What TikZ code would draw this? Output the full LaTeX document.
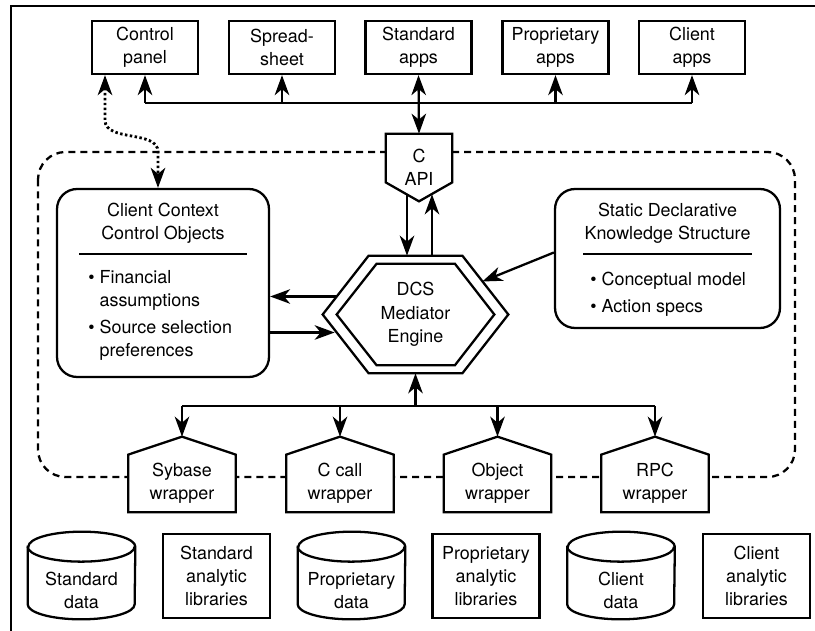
\documentclass[tikz,border=0pt]{standalone}
\usepackage{fontspec}
\setmainfont{TeX Gyre Heros}
\usepackage{tikz}
\usetikzlibrary{arrows.meta, calc, backgrounds}
\tikzstyle{appbox} = [draw, line width=1.3pt, minimum width=2.12cm, minimum height=1.06cm, align=center, inner sep=0pt]
\tikzstyle{libbox} = [draw, line width=1.3pt, minimum width=2.14cm, minimum height=1.68cm, align=center, inner sep=0pt]
\tikzstyle{ctxbox} = [draw, line width=1.3pt, rounded corners=0.4cm, inner sep=0pt]
\tikzstyle{bare} = [inner sep=0pt, align=center]
\tikzstyle{outline} = [line width=1.3pt, fill=white]
\tikzstyle{bus} = [line width=1.3pt]
\tikzstyle{arrow} = [line width=1.3pt, -{Stealth[length=4mm, width=2.9mm, inset=1.2mm]}]
\tikzstyle{twoway} = [line width=1.3pt, {Stealth[length=4mm, width=2.9mm, inset=1.2mm]}-{Stealth[length=4mm, width=2.9mm, inset=1.2mm]}]
\tikzstyle{linkdots} = [line width=1.6pt, dash pattern=on 1.4pt off 1.4pt, {Stealth[length=4mm, width=2.9mm, inset=1.2mm]}-{Stealth[length=4mm, width=2.9mm, inset=1.2mm]}]
\tikzstyle{boundary} = [line width=1.3pt, dash pattern=on 0.14cm off 0.1cm, rounded corners=0.55cm]

\begin{document}
\begin{tikzpicture}[x=0.02cm, y=-0.02cm, font=\fontsize{10.2}{13.3}\selectfont]
    \useasboundingbox (0,0) rectangle (815,631);
    \draw[line width=0.6pt] (11,640) -- (11,6) -- (825,6);

    % applications
    \node[appbox] (cp) at (145,47.5) {Control\\panel};
    \node[appbox] (ss) at (282,47.5) {Spread-\\sheet};
    \node[appbox] (sapp) at (418.5,47.5) {Standard\\apps};
    \node[appbox] (papp) at (555.5,47.5) {Proprietary\\apps};
    \node[appbox] (capp) at (692,47.5) {Client\\apps};

    \node[bare, minimum width=1.32cm, minimum height=1.34cm] (api) at (419,167.5) {C\\API};
    \node[bare, minimum width=3.7cm, minimum height=2.34cm] (dcs) at (415.5,314.5) {DCS\\Mediator\\Engine};

    % context objects
    \node[ctxbox, minimum width=4.24cm, minimum height=3.76cm] (cc) at (163,283) {};
    \node[bare] (cct) at (163,223.5) {Client Context\\Control Objects};
    \draw[line width=1.3pt] (79,254) -- (247,254);
    \node[bare, align=left, anchor=west] (ccl) at (88,315.5) {\textbullet\ Financial\\\hphantom{\textbullet\ }assumptions\\[2pt]\textbullet\ Source selection\\\hphantom{\textbullet\ }preferences};

    \node[ctxbox, minimum width=4.5cm, minimum height=2.78cm] (sk) at (667.5,258.5) {};
    \node[bare] (skt) at (667.5,223.5) {Static Declarative\\Knowledge Structure};
    \draw[line width=1.3pt] (583,254) -- (752,254);
    \node[bare, align=left, anchor=west] (skl) at (590,294) {\textbullet\ Conceptual model\\[2pt]\textbullet\ Action specs};

    % wrappers
    \node[bare, minimum width=2.14cm, minimum height=1.14cm] (syb) at (182,483.5) {Sybase\\wrapper};
    \node[bare, minimum width=2.14cm, minimum height=1.14cm] (ccall) at (340,483.5) {C call\\wrapper};
    \node[bare, minimum width=2.14cm, minimum height=1.14cm] (obj) at (497.5,483.5) {Object\\wrapper};
    \node[bare, minimum width=2.14cm, minimum height=1.14cm] (rpc) at (655,483.5) {RPC\\wrapper};

    % sources
    \node[bare, minimum width=2.14cm, minimum height=1.14cm] (sdata) at (81.5,590.5) {Standard\\data};
    \node[libbox] (slib) at (216.5,576) {Standard\\analytic\\libraries};
    \node[bare, minimum width=2.14cm, minimum height=1.14cm] (pdata) at (351.5,590.5) {Proprietary\\data};
    \node[libbox] (plib) at (486,576) {Proprietary\\analytic\\libraries};
    \node[bare, minimum width=2.14cm, minimum height=1.14cm] (cdata) at (621,590.5) {Client\\data};
    \node[libbox] (clib) at (756.5,576) {Client\\analytic\\libraries};

    \foreach \n in {sdata,pdata,cdata}{
        \draw[line width=1.3pt] ([yshift=0.3cm]\n.north west) -- ([yshift=0.3cm]\n.south west)
            arc[start angle=180, end angle=360, x radius=1.07cm, y radius=0.3cm]
            -- ([yshift=0.3cm]\n.north east)
            arc[start angle=0, end angle=180, x radius=1.07cm, y radius=0.3cm] -- cycle;
        \draw[line width=1.3pt] ([yshift=0.3cm]\n.north west)
            arc[start angle=180, end angle=360, x radius=1.07cm, y radius=0.3cm];
    }

    \begin{scope}[on background layer]
        \draw[boundary] (38,152) rectangle (795,477);
        \draw[outline] (api.north west) -- (api.north east) -- ([yshift=0.38cm]api.south east)
            -- (api.south) -- ([yshift=0.38cm]api.south west) -- cycle;
        \draw[outline] (dcs.west) -- ([xshift=0.92cm]dcs.north west) -- ([xshift=-0.92cm]dcs.north east)
            -- (dcs.east) -- ([xshift=-0.92cm]dcs.south east) -- ([xshift=0.92cm]dcs.south west) -- cycle;
        \draw[line width=1.3pt] ([xshift=0.28cm]dcs.west) -- ([shift={(1.08cm,-0.16cm)}]dcs.north west)
            -- ([shift={(-1.07cm,-0.16cm)}]dcs.north east) -- ([xshift=-0.28cm]dcs.east)
            -- ([shift={(-1.07cm,0.16cm)}]dcs.south east) -- ([shift={(1.08cm,0.16cm)}]dcs.south west) -- cycle;
        \foreach \n in {syb,ccall,obj,rpc}
            \draw[outline] (\n.south west) -- (\n.south east) -- (\n.north east)
                -- ([yshift=0.36cm]\n.north) -- (\n.north west) -- cycle;
    \end{scope}

    % connections
    \coordinate (tbus) at (0,103);
    \draw[bus] (cp.south |- tbus) -- (capp.south |- tbus);
    \foreach \n in {cp,ss,papp,capp}
        \draw[arrow] (\n.south |- tbus) -- (\n.south);
    \draw[twoway] (sapp.south) -- (api.north);

    \coordinate (apid) at ([shift={(-12,-7)}]api.south);
    \coordinate (apiu) at ([shift={(13,-7)}]api.south);
    \draw[arrow] (apid) -- (apid |- dcs.north);
    \draw[arrow] (apiu |- dcs.north) -- (apiu);

    \coordinate (hl1) at ([shift={(14,-18)}]dcs.west);
    \coordinate (hl2) at ([shift={(12,18)}]dcs.west);
    \draw[arrow] (hl1) -- (hl1 -| cc.east);
    \draw[arrow] (hl2 -| cc.east) -- (hl2);
    \draw[arrow] ([yshift=0.12cm]sk.west) -- ([shift={(-26,-33)}]dcs.east);

    \coordinate (bbus) at (0,406);
    \draw[bus] (syb.north |- bbus) -- (rpc.north |- bbus);
    \draw[arrow] (dcs.south |- bbus) -- (dcs.south);
    \foreach \n in {syb,ccall,obj,rpc}
        \draw[arrow] (\n.north |- bbus) -- ([yshift=0.36cm]\n.north);

    \draw[linkdots] ([xshift=-0.8cm]cp.south) -- ++(0,45) .. controls +(0,22) and +(0,-22) .. ([shift={(-5,-36)}]cc.north) -- ([xshift=-0.1cm]cc.north);
\end{tikzpicture}
\end{document}
